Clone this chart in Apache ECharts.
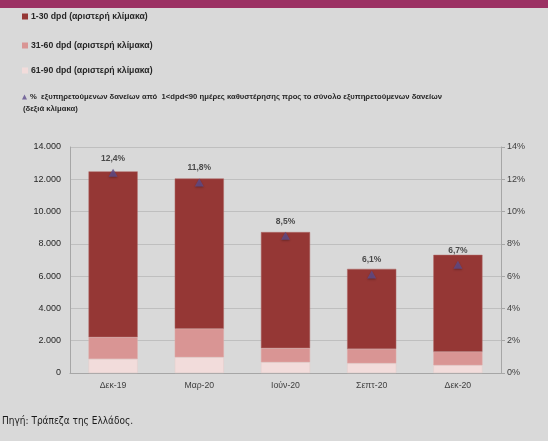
<!DOCTYPE html>
<html>
<head>
<meta charset="utf-8">
<script src="https://cdn.jsdelivr.net/npm/echarts@6/dist/echarts.min.js"></script>
<style>
  html, body { margin: 0; padding: 0; background: #d9d9d9; }
  #chart { width: 548px; height: 441px; }
</style>
</head>
<body>
<div id="chart"></div>
<script>
var categories = ['Δεκ-19', 'Μαρ-20', 'Ιούν-20', 'Σεπτ-20', 'Δεκ-20'];
var dpd1to30 = [10270, 9310, 7190, 4970, 6010];
var dpd31to60 = [1350, 1760, 870, 880, 830];
var dpd61to90 = [870, 980, 670, 600, 480];
var sharePct = [12.4, 11.8, 8.5, 6.1, 6.7];

var leftTicks = { min: 0, max: 14000, interval: 2000 };
var rightTicks = { min: 0, max: 14, interval: 2 };

var names = [
    '1-30 dpd (αριστερή κλίμακα)',
    '31-60 dpd (αριστερή κλίμακα)',
    '61-90 dpd (αριστερή κλίμακα)',
    '%  εξυπηρετούμενων δανείων από  1<dpd<90 ημέρες καθυστέρησης προς το σύνολο εξυπηρετούμενων δανείων'
];

var font = 'Liberation Sans';

function legendAt(name, top, icon, size, fontSize) {
    return {
        data: [{ name: name, icon: icon }],
        left: 22,
        top: top,
        itemWidth: size,
        itemHeight: size,
        itemGap: 0,
        padding: 0,
        selectedMode: false,
        itemStyle: { borderWidth: 0, shadowBlur: 0, shadowOffsetY: 0 },
        textStyle: { fontFamily: font, fontSize: fontSize, color: '#262626', fontWeight: 'bold', padding: [0, 0, 0, -2] }
    };
}

function thousands(v) {
    return String(v).replace(/\B(?=(\d{3})+(?!\d))/g, '.');
}

var chart = echarts.init(document.getElementById('chart'));

var barBase = { type: 'bar', stack: 'dpd', barCategoryGap: '43%', yAxisIndex: 0 };

chart.setOption({
    backgroundColor: '#d9d9d9',
    animation: false,
    graphic: [
        { type: 'rect', left: 0, top: 0, shape: { width: 548, height: 8 }, style: { fill: '#9b3163' } },
        { type: 'text', left: 23, top: 105, style: { text: '(δεξιά κλίμακα)', font: 'bold 7.7px ' + font, fill: '#262626' } },
        { type: 'text', left: 2, top: 416, style: { text: 'Πηγή: Τράπεζα της Ελλάδος.', font: '10px "DejaVu Sans Condensed"', fill: '#1a1a1a' } }
    ],
    legend: [
        legendAt(names[0], 12, 'rect', 6, 8.7),
        legendAt(names[1], 41, 'rect', 6, 8.7),
        legendAt(names[2], 66, 'rect', 6, 8.7),
        legendAt(names[3], 93, 'triangle', 5, 7.7)
    ],
    grid: { left: 70, right: 47, top: 147, bottom: 68 },
    xAxis: {
        type: 'category',
        data: categories,
        axisLine: { lineStyle: { color: '#a6a6a6' } },
        axisTick: { show: false },
        axisLabel: { fontFamily: font, fontSize: 8.7, color: '#404040', margin: 8 }
    },
    yAxis: [
        {
            type: 'value',
            min: leftTicks.min, max: leftTicks.max, interval: leftTicks.interval,
            axisLine: { show: true, lineStyle: { color: '#a6a6a6' } },
            axisTick: { show: false },
            splitLine: { lineStyle: { color: '#bfbfbf' } },
            axisLabel: { fontFamily: font, fontSize: 9, color: '#262626', margin: 9, formatter: thousands }
        },
        {
            type: 'value',
            position: 'right',
            min: rightTicks.min, max: rightTicks.max, interval: rightTicks.interval,
            axisLine: { show: true, lineStyle: { color: '#a6a6a6' } },
            axisTick: { show: true, length: 4, lineStyle: { color: '#a6a6a6' } },
            splitLine: { show: false },
            axisLabel: { fontFamily: font, fontSize: 9, color: '#404040', margin: 6, formatter: '{value}%' }
        }
    ],
    series: [
        Object.assign({ name: names[2], data: dpd61to90, itemStyle: { color: '#f2dcdb', borderColor: '#e4cccb', borderWidth: 0.5 } }, barBase),
        Object.assign({ name: names[1], data: dpd31to60, itemStyle: { color: '#d99594', borderColor: '#e0aaa9', borderWidth: 0.5 } }, barBase),
        Object.assign({ name: names[0], data: dpd1to30, itemStyle: { color: '#953735', borderColor: '#b06a68', borderWidth: 0.5 } }, barBase),
        {
            name: names[3],
            type: 'scatter',
            yAxisIndex: 1,
            data: sharePct,
            symbol: 'triangle',
            symbolSize: [9, 8],
            itemStyle: { color: '#5e4c8c', shadowColor: 'rgba(0,0,0,0.35)', shadowBlur: 2, shadowOffsetY: 1 },
            label: {
                show: true,
                position: 'top',
                distance: 6,
                fontFamily: font,
                fontSize: 8.5,
                fontWeight: 'bold',
                color: '#262626',
                formatter: function (p) { return p.value.toFixed(1).replace('.', ',') + '%'; }
            },
            z: 5
        }
    ]
});
</script>
</body>
</html>
